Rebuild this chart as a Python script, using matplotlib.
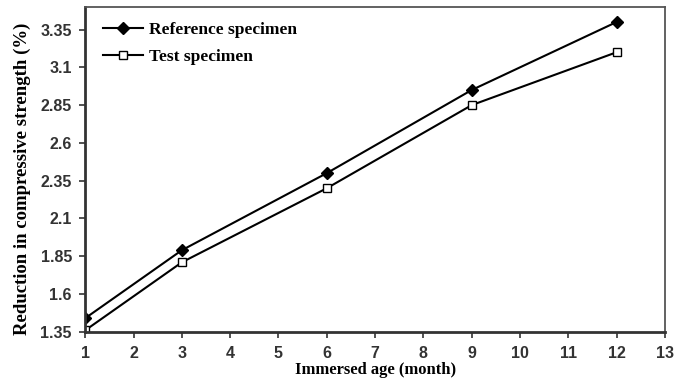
import matplotlib
matplotlib.use('Agg')
import matplotlib.pyplot as plt

# Reduction in compressive strength vs immersed age
age_months = [1, 3, 6, 9, 12]
reference_specimen = [1.44, 1.89, 2.40, 2.95, 3.40]
test_specimen = [1.36, 1.81, 2.30, 2.85, 3.20]

x_ticks = list(range(1, 14))
y_ticks = [1.35, 1.6, 1.85, 2.1, 2.35, 2.6, 2.85, 3.1, 3.35]
y_labels = ['1.35', '1.6', '1.85', '2.1', '2.35', '2.6', '2.85', '3.1', '3.35']

fig = plt.figure(figsize=(6.87, 3.81), dpi=100)
ax = fig.add_axes([0.124, 0.129, 0.844, 0.853])

ax.plot(age_months, reference_specimen, '-', color='black', linewidth=1.5,
        marker='D', markersize=6, markerfacecolor='black', markeredgecolor='black',
        label='Reference specimen')
ax.plot(age_months, test_specimen, '-', color='black', linewidth=1.5,
        marker='s', markersize=5.5, markerfacecolor='white', markeredgecolor='black',
        label='Test specimen')

ax.set_xlim(1, 13)
ax.set_ylim(1.35, 3.5)
ax.set_xticks(x_ticks)
ax.set_yticks(y_ticks)
ax.set_yticklabels(y_labels)

for lbl in ax.get_xticklabels() + ax.get_yticklabels():
    lbl.set_fontfamily('Liberation Sans')
    lbl.set_fontweight('bold')
    lbl.set_fontsize(11.5)
    lbl.set_color('#222222')

ax.tick_params(direction='out', length=4.5, width=1.2, colors='#333333')
ax.tick_params(axis='y', pad=5)
ax.tick_params(axis='x', pad=6)

for side in ['left', 'bottom']:
    ax.spines[side].set_linewidth(2.0)
    ax.spines[side].set_color('#333333')
for side in ['top', 'right']:
    ax.spines[side].set_linewidth(1.3)
    ax.spines[side].set_color('#555555')

ax.set_ylabel('Reduction in compressive strength (%)', family='Liberation Serif',
              weight='bold', fontsize=13.5)
ax.yaxis.set_label_coords(-0.094, 0.47)
ax.set_xlabel('Immersed age (month)', family='Liberation Serif',
              weight='bold', fontsize=12)
ax.xaxis.set_label_coords(0.5, -0.093)
ax.xaxis.label.set_va('top')

ax.legend(loc='upper left', bbox_to_anchor=(0.019, 0.975), frameon=False,
          handlelength=2.3, handletextpad=0.35, labelspacing=0.6,
          borderaxespad=0.0,
          prop=dict(family='Liberation Serif', weight='bold', size=12.5))

fig.savefig('out.png', dpi=100)
